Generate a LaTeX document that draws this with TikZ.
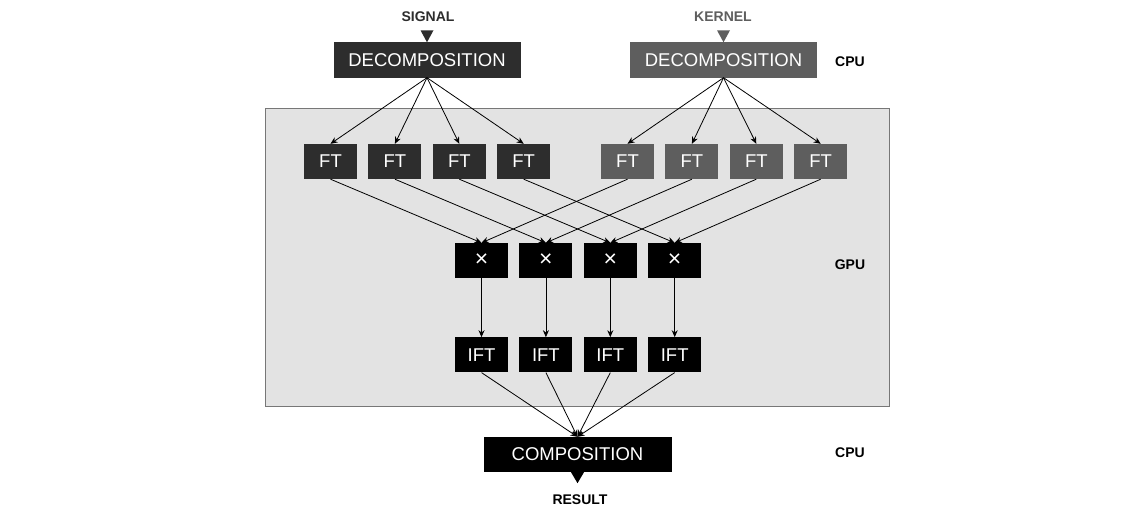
\documentclass[tikz,border=0pt]{standalone}
\usepackage{fontspec}
\setmainfont{Liberation Sans}
\usetikzlibrary{positioning}
\usetikzlibrary{arrows.meta}
\definecolor{signalgray}{HTML}{2D2D2D}
\definecolor{kernelgray}{HTML}{5E5E5E}
\definecolor{gpuback}{HTML}{E3E3E3}
\definecolor{gpuframe}{HTML}{777777}
\begin{document}
\begin{tikzpicture}[
		x=1pt,y=-1pt,
		>={Stealth[length=7pt,width=6pt]},
		every node/.append style={
			inner sep=0pt,
			text=white,
			font=\fontsize{18.5}{21}\selectfont,
		},
		big/.style={minimum width=187pt,minimum height=35pt},
		small/.style={minimum width=53pt,minimum height=35pt},
		signal/.style={fill=signalgray},
		kernel/.style={fill=kernelgray},
		gpu/.style={fill=black},
		times/.style={gpu,font=\fontsize{23}{25}\selectfont},
		tag/.style={font=\bfseries\fontsize{14}{16}\selectfont,text=#1},
		tag/.default=black,
	]
	\useasboundingbox (0,0) rectangle (1142,511);
	% the GPU part
	\draw[fill=gpuback,draw=gpuframe,line width=0.8pt] (265,108) rectangle (889,406);
	% top of the picture
	\node[tag=signalgray] (signal) at (428,17) {SIGNAL};
	\node[tag=kernelgray] (kernel) at (723,17) {KERNEL};
	\node[big,signal] (decsig) at (427,60) {DECOMPOSITION};
	\node[big,kernel] (deckern) at (723.5,60) {DECOMPOSITION};
	\fill[signalgray] (decsig.north) ++(-6.5,-12) -- ++(13,0) -- (decsig.north) -- cycle;
	\fill[kernelgray] (deckern.north) ++(-6.5,-12) -- ++(13,0) -- (deckern.north) -- cycle;
	% signal transforms
	\node[small,signal] (ftl1) at (330.5,161.5) {FT};
	\node[small,signal] (ftl2) [right=11pt of ftl1] {FT};
	\node[small,signal] (ftl3) [right=11pt of ftl2] {FT};
	\node[small,signal] (ftl4) [right=11pt of ftl3] {FT};
	% kernel transforms
	\node[small,kernel] (ftr1) at (627.5,161.5) {FT};
	\node[small,kernel] (ftr2) [right=11pt of ftr1] {FT};
	\node[small,kernel] (ftr3) [right=11pt of ftr2] {FT};
	\node[small,kernel] (ftr4) [right=11pt of ftr3] {FT};
	% products and inverse transforms
	\node[small,times] (mul1) at (481.5,260.5) {×};
	\node[small,times] (mul2) [right=11pt of mul1] {×};
	\node[small,times] (mul3) [right=11pt of mul2] {×};
	\node[small,times] (mul4) [right=11pt of mul3] {×};
	\node[small,gpu] (ift1) [below=59pt of mul1] {IFT};
	\node[small,gpu] (ift2) [below=59pt of mul2] {IFT};
	\node[small,gpu] (ift3) [below=59pt of mul3] {IFT};
	\node[small,gpu] (ift4) [below=59pt of mul4] {IFT};
	% bottom of the picture
	\node[big,gpu,minimum width=188pt] (comp) at (577.5,454.5) {COMPOSITION};
	\fill[black] (comp.south) ++(-6.5,0) -- ++(13,0) -- ++(-6.5,11) -- cycle;
	\node[tag] (result) at (580,500) {RESULT};
	% side labels
	\node[tag] (cpu1) at (850,62) {CPU};
	\node[tag] (gpu) at (850,265) {GPU};
	\node[tag] (cpu2) at (850,453) {CPU};
	% draw the connection lines
	\begin{scope}[line width=0.8pt]
	\draw[->] (decsig.south) -- (ftl1.north);
	\draw[->] (decsig.south) -- (ftl2.north);
	\draw[->] (decsig.south) -- (ftl3.north);
	\draw[->] (decsig.south) -- (ftl4.north);
	\draw[->] (deckern.south) -- (ftr1.north);
	\draw[->] (deckern.south) -- (ftr2.north);
	\draw[->] (deckern.south) -- (ftr3.north);
	\draw[->] (deckern.south) -- (ftr4.north);
	\draw[->] (ftl1.south) -- (mul1.north);
	\draw[->] (ftl2.south) -- (mul2.north);
	\draw[->] (ftl3.south) -- (mul3.north);
	\draw[->] (ftl4.south) -- (mul4.north);
	\draw[->] (ftr1.south) -- (mul1.north);
	\draw[->] (ftr2.south) -- (mul2.north);
	\draw[->] (ftr3.south) -- (mul3.north);
	\draw[->] (ftr4.south) -- (mul4.north);
	\draw[->] (mul1) -- (ift1);
	\draw[->] (mul2) -- (ift2);
	\draw[->] (mul3) -- (ift3);
	\draw[->] (mul4) -- (ift4);
	\draw[->] (ift1.south) -- (comp.north);
	\draw[->] (ift2.south) -- (comp.north);
	\draw[->] (ift3.south) -- (comp.north);
	\draw[->] (ift4.south) -- (comp.north);
	\end{scope}
\end{tikzpicture}
\end{document}
